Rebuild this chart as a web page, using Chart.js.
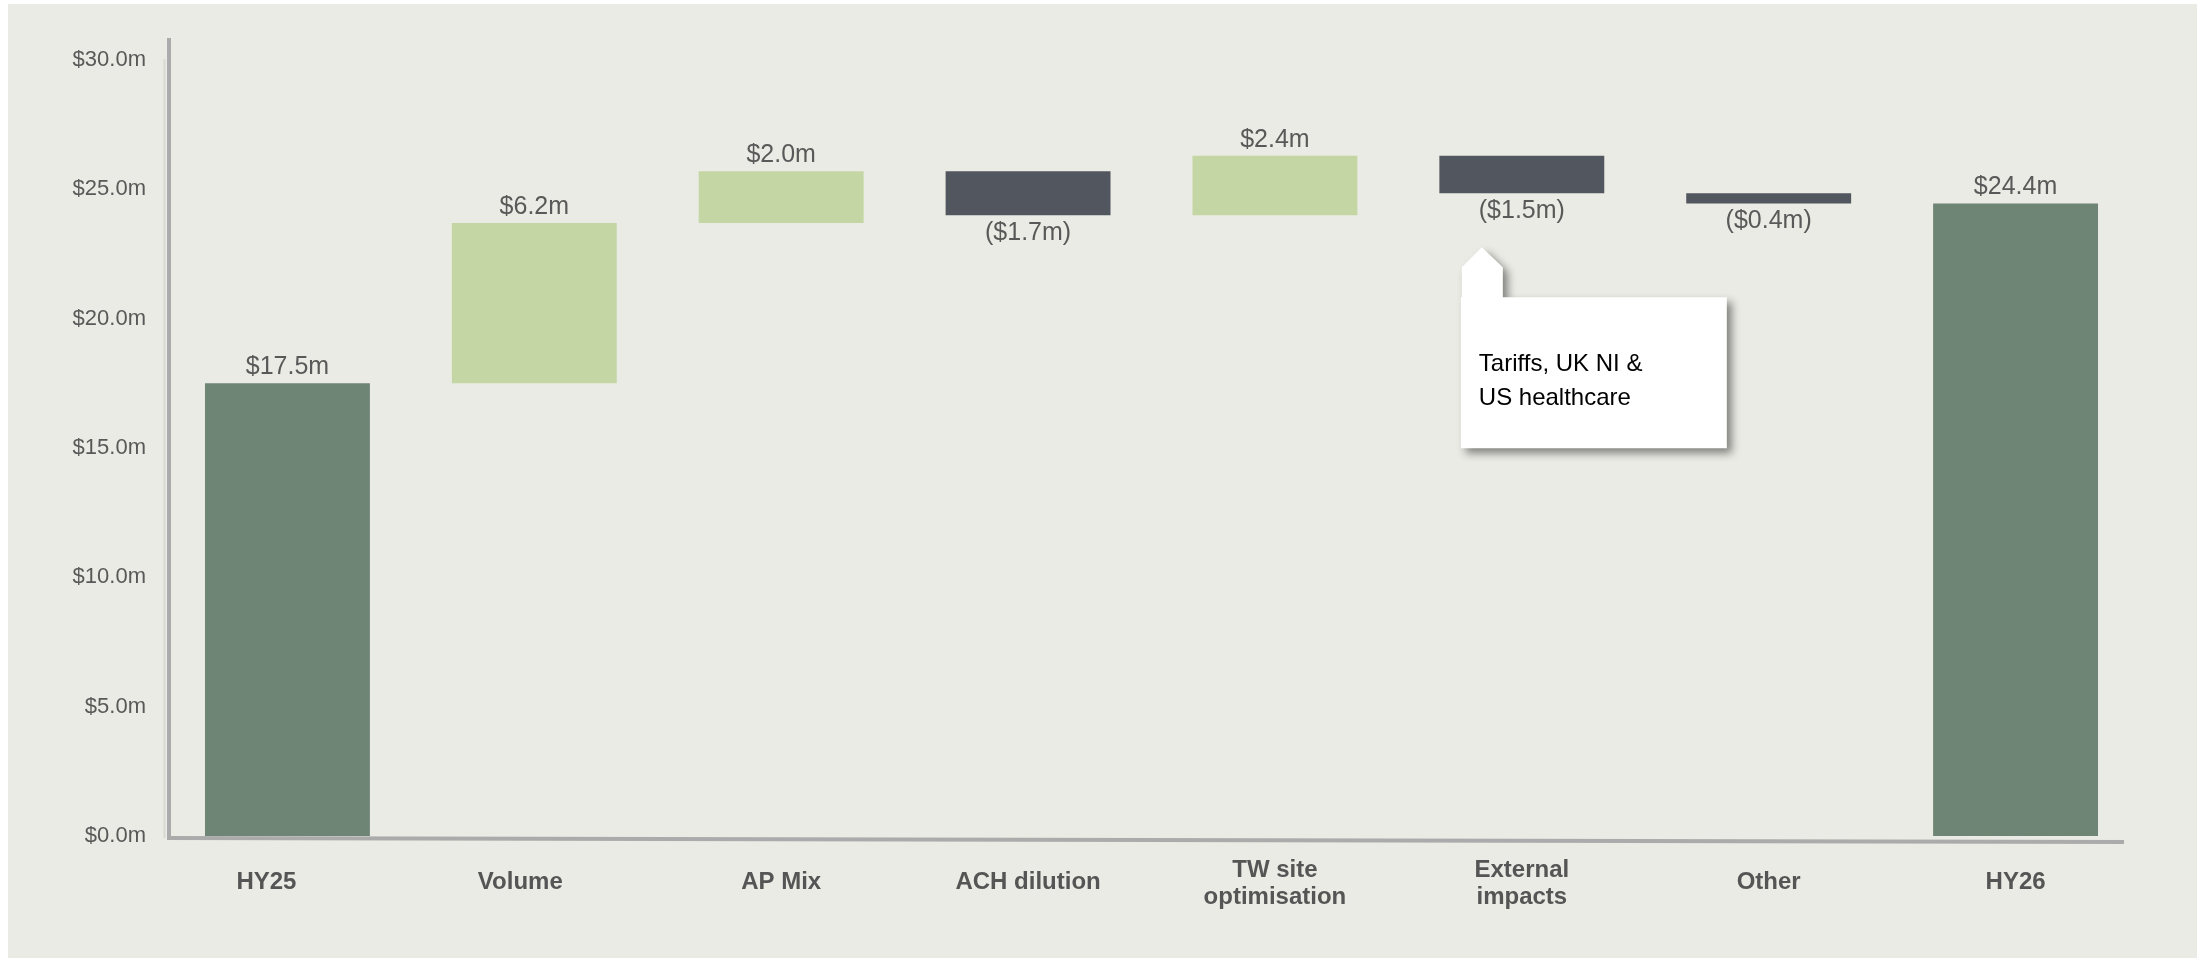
<!DOCTYPE html>
<html>
<head>
<meta charset="utf-8">
<script src="https://cdn.jsdelivr.net/npm/chart.js@4.4.1/dist/chart.umd.min.js"></script>
<style>
  html, body { margin: 0; padding: 0; background: #ffffff; }
  #wrap { width: 2206px; height: 958px; position: relative; }
  canvas { display: block; }
</style>
</head>
<body>
<div id="wrap"><canvas id="c" width="2206" height="958"></canvas></div>
<script>
// ---- data ----
const categories = ["HY25", "Volume", "AP Mix", "ACH dilution", ["TW site", "optimisation"], ["External", "impacts"], "Other", "HY26"];
const barLow  = [0,    17.5, 23.7, 24.0, 24.0, 24.85, 24.45, 0];
const barHigh = [17.5, 23.7, 25.7, 25.7, 26.3, 26.3,  24.85, 24.45];
const valueLabels = ["$17.5m", "$6.2m", "$2.0m", "($1.7m)", "$2.4m", "($1.5m)", "($0.4m)", "$24.4m"];
const isDecrease = [false, false, false, true, false, true, true, false];
const yTickLabels = ["$0.0m", "$5.0m", "$10.0m", "$15.0m", "$20.0m", "$25.0m", "$30.0m"];
const calloutLines = ["Tariffs, UK NI &", "US healthcare"];
const calloutIndex = 5;

// ---- styles ----
const barColors = ["#6E8474", "#C5D6A5", "#C5D6A5", "#52575F", "#C5D6A5", "#52575F", "#52575F", "#6E8474"];
const labelShift = [-21, -14, 0, 0, 0, 0, 0, 0];
const BG = "#EAEBE4";
const TEXT = "#595959";

const bgPlugin = {
  id: "bg",
  beforeDraw(chart) {
    const ctx = chart.ctx;
    ctx.save();
    ctx.fillStyle = "#ffffff";
    ctx.fillRect(0, 0, chart.width, chart.height);
    ctx.fillStyle = BG;
    ctx.fillRect(8, 4, 2189, 954);
    ctx.restore();
  }
};

const axesPlugin = {
  id: "axesLines",
  beforeDatasetsDraw(chart) {
    const ctx = chart.ctx;
    const a = chart.chartArea;
    ctx.save();
    ctx.strokeStyle = "#D9D9D3";
    ctx.lineWidth = 2;
    ctx.beginPath();
    ctx.moveTo(a.left + 0.5, a.top - 1);
    ctx.lineTo(a.left + 0.5, a.bottom + 2);
    ctx.stroke();
    ctx.strokeStyle = "#ABABAB";
    ctx.lineWidth = 4;
    ctx.beginPath();
    ctx.moveTo(a.left + 5, a.top - 22);
    ctx.lineTo(a.left + 5, a.bottom + 4);
    ctx.stroke();
    ctx.beginPath();
    ctx.moveTo(a.left + 3, a.bottom + 2);
    ctx.lineTo(a.right - 15, a.bottom + 6);
    ctx.stroke();
    ctx.restore();
  }
};

const labelsPlugin = {
  id: "labels",
  afterDatasetsDraw(chart) {
    const ctx = chart.ctx;
    const xs = chart.scales.x;
    const ys = chart.scales.y;
    const a = chart.chartArea;
    ctx.save();
    ctx.font = "25px 'Liberation Sans', Arial, sans-serif";
    ctx.fillStyle = TEXT;
    ctx.textAlign = "center";
    ctx.textBaseline = "middle";
    for (let i = 0; i < categories.length; i++) {
      const x = xs.getPixelForValue(i);
      if (isDecrease[i]) {
        const yb = ys.getPixelForValue(Math.min(barLow[i], barHigh[i]));
        ctx.fillText(valueLabels[i], x, yb + 18);
      } else {
        const yt = ys.getPixelForValue(Math.max(barLow[i], barHigh[i]));
        ctx.fillText(valueLabels[i], x, yt - 16);
      }
    }
    ctx.font = "bold 24px 'Liberation Sans', Arial, sans-serif";
    ctx.fillStyle = "#555555";
    for (let i = 0; i < categories.length; i++) {
      const x = xs.getPixelForValue(i) + labelShift[i];
      const lab = categories[i];
      if (Array.isArray(lab)) {
        const mid = a.bottom + 48;
        ctx.fillText(lab[0], x, mid - 13.5);
        ctx.fillText(lab[1], x, mid + 13.5);
      } else {
        ctx.fillText(lab, x, a.bottom + 46);
      }
    }
    const cx = xs.getPixelForValue(calloutIndex);
    const yb = ys.getPixelForValue(barLow[calloutIndex]);
    const left = cx - 61, right = cx + 205;
    const tipY = yb + 54, shoulderY = tipY + 20, top = tipY + 50, bottom = tipY + 201;
    const aL = left + 1, aR = left + 42, aTip = left + 21;
    ctx.save();
    ctx.shadowColor = "rgba(0,0,0,0.45)";
    ctx.shadowBlur = 8;
    ctx.shadowOffsetX = 5;
    ctx.shadowOffsetY = 5;
    ctx.fillStyle = "#ffffff";
    ctx.beginPath();
    ctx.moveTo(left, top);
    ctx.lineTo(aL, top);
    ctx.lineTo(aL, shoulderY);
    ctx.lineTo(aTip, tipY);
    ctx.lineTo(aR, shoulderY);
    ctx.lineTo(aR, top);
    ctx.lineTo(right, top);
    ctx.lineTo(right, bottom);
    ctx.lineTo(left, bottom);
    ctx.closePath();
    ctx.fill();
    ctx.restore();
    ctx.font = "24px 'Liberation Sans', Arial, sans-serif";
    ctx.fillStyle = "#000000";
    ctx.textAlign = "left";
    ctx.textBaseline = "alphabetic";
    ctx.fillText(calloutLines[0], left + 18, top + 74);
    ctx.fillText(calloutLines[1], left + 18, top + 108);
    ctx.restore();
  }
};

new Chart(document.getElementById("c"), {
  type: "bar",
  data: {
    labels: categories,
    datasets: [{
      data: categories.map((c, i) => [barLow[i], barHigh[i]]),
      backgroundColor: barColors,
      borderWidth: 0,
      borderSkipped: false,
      barPercentage: 0.668,
      categoryPercentage: 1.0
    }]
  },
  options: {
    responsive: false,
    animation: false,
    devicePixelRatio: 1,
    layout: { padding: { top: 60, right: 67, bottom: 122, left: 0 } },
    plugins: { legend: { display: false }, tooltip: { enabled: false } },
    scales: {
      x: { display: false, offset: true },
      y: {
        min: 0, max: 30,
        afterFit(s) { s.width = 164; },
        grid: { display: false, drawTicks: false },
        border: { display: false },
        ticks: {
          stepSize: 5,
          padding: 18,
          color: TEXT,
          font: { family: "'Liberation Sans', Arial, sans-serif", size: 22 },
          callback: (v, i) => yTickLabels[i]
        }
      }
    }
  },
  plugins: [bgPlugin, axesPlugin, labelsPlugin]
});
</script>
</body>
</html>
